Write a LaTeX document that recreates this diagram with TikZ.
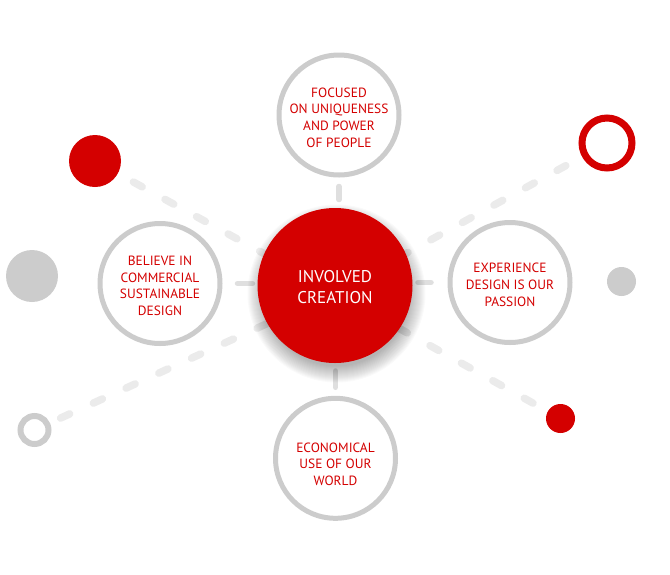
\documentclass[tikz,border=0pt]{standalone}
\usepackage{fontspec}
\setmainfont{PT Sans}
\usetikzlibrary{calc}
\definecolor{cred}{HTML}{D40000}
\definecolor{cring}{HTML}{CCCCCC}
\definecolor{cdash}{HTML}{EBEBEB}
\definecolor{cstub}{HTML}{DFDFDF}
\begin{document}
\begin{tikzpicture}[x=1pt,y=-1pt,
  ring/.style={circle,draw=cring,line width=5pt,fill=white,minimum size=120pt,inner sep=0pt,outer sep=0pt},
  sattext/.style={text=cred,align=center,font=\fontsize{13.4}{16.7}\selectfont,inner sep=0pt},
  hubtext/.style={text=white,align=center,font=\fontsize{17}{21.7}\selectfont,inner sep=0pt},
  longdash/.style={draw=cdash,line width=7.5pt,line cap=round,dash pattern=on 10pt off 26pt},
  stub/.style={draw=cstub,line width=5.5pt,line cap=round},
  dotnode/.style={circle,inner sep=0pt,outer sep=0pt},
]
\useasboundingbox (0,0) rectangle (670,574);
\coordinate (hub) at (335,292.5);
% decorative dots
\node[dotnode,fill=cred,minimum size=52pt] (dA) at (95,161) {};
\node[dotnode,draw=cred,line width=7pt,minimum size=50pt] (dB) at (607,143) {};
\node[dotnode,draw=cring,line width=6pt,minimum size=28pt] (dC) at (34.5,430) {};
\node[dotnode,fill=cred,minimum size=29pt] (dD) at (560.5,418.5) {};
\node[dotnode,fill=cring,minimum size=52pt] (dE) at (32,276) {};
\node[dotnode,fill=cring,minimum size=29pt] (dF) at (621.5,281.5) {};
% long dashed lines
\draw[longdash,shorten <=17.8pt] (dA) -- (hub);
\draw[longdash,shorten <=22pt] (dB) -- (hub);
\draw[longdash,shorten <=14.7pt] (dC) -- (hub);
\draw[longdash,shorten <=17pt] (dD) -- (hub);
% satellite circles
\node[ring] (T) at (339,115) {};
\node[ring] (L) at (160,283.5) {};
\node[ring] (R) at (510,282.5) {};
\node[ring] (B) at (335.5,458.3) {};
\node[sattext] (Tt) at (339,117.5) {FOCUSED\\ON UNIQUENESS\\AND POWER\\OF PEOPLE};
\node[sattext] (Lt) at (160,285.8) {BELIEVE IN\\COMMERCIAL\\SUSTAINABLE\\DESIGN};
\node[sattext] (Rt) at (510,284.7) {EXPERIENCE\\DESIGN IS OUR\\PASSION};
\node[sattext] (Bt) at (335.5,464.3) {ECONOMICAL\\USE OF OUR\\WORLD};
% centre placement helper
\coordinate (Cc) at (335,285.5);
% short connectors
\draw[stub,shorten <=11.5pt,shorten >=8.5pt] (T.south) -- ($(T.south |- Cc)+(0,-77.5)$);
\draw[stub,shorten <=17.5pt,shorten >=5pt] (L.east) -- ($(L.east -| Cc)+(-77.5,0)$);
\draw[stub,shorten <=19pt,shorten >=5.5pt] (R.west) -- ($(R.west -| Cc)+(77.5,0)$);
\draw[stub,shorten <=11pt,shorten >=8pt] (B.north) -- ($(B.north |- Cc)+(0,77.5)$);
% shadow of centre circle
\foreach \k in {0,...,16} {
  \fill[black,opacity=0.02] ($(Cc)+(1.5,8)$) circle[radius={(73+\k)*1pt}];
}
% centre circle
\node[dotnode,fill=cred,minimum size=155pt] (C) at (Cc) {};
\node[hubtext] (Ct) at (335,287) {INVOLVED\\CREATION};
\end{tikzpicture}
\end{document}
